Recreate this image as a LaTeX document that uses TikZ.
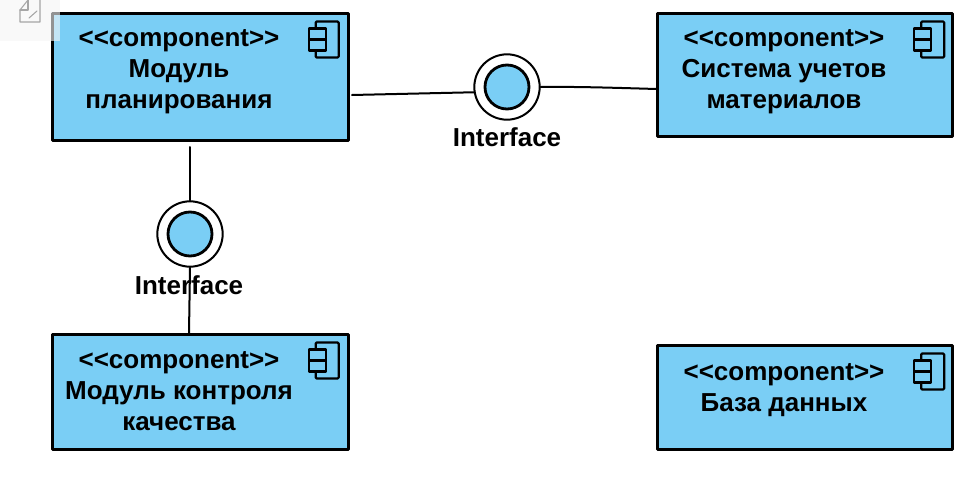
\documentclass[tikz,border=0pt]{standalone}
\usepackage{fontspec}
\setmainfont{Liberation Sans}
\definecolor{compblue}{HTML}{7ACEF5}
\tikzset{
  comp/.style={draw=black,line width=2.25pt,fill=compblue,minimum width=221.5pt,inner sep=0pt},
  comptext/.style={font=\fontsize{19.5}{23}\selectfont\bfseries,align=center,anchor=north,inner sep=0pt},
  ifaceout/.style={circle,draw=black,line width=1.5pt,fill=white,minimum size=49pt,inner sep=0pt},
  ifacein/.style={circle,draw=black,line width=2.1pt,fill=compblue,minimum size=33pt,inner sep=0pt},
  conn/.style={draw=black,line width=1.5pt},
  compicon/.pic={
    \draw[line width=1.7pt,rounded corners=0.8pt] (-23,0) rectangle (0,36);
    \draw[line width=1.7pt,fill=compblue] (-30,7) rectangle (-13,18);
    \draw[line width=1.7pt,fill=compblue] (-30,18) rectangle (-13,29);
  }
}
\begin{document}
\begin{tikzpicture}[line cap=round,line join=round,x=0.75pt,y=-0.75pt]
\useasboundingbox (0,0) rectangle (976,482);
\fill[white] (0,0) rectangle (976,482);
\node[comp,minimum height=95.25pt] (plan) at (200.5,76.5) {};
\node[comp,minimum height=92.25pt] (sys) at (805,74.5) {};
\node[comp,minimum height=86.25pt] (qual) at (200.5,391.5) {};
\node[comp,minimum height=78pt] (db) at (805,397) {};
\node[ifaceout] (ifm) at (507,87) {};
\node[ifaceout] (ifq) at (190,234) {};
\coordinate (planr) at (352,95);
\coordinate (planb) at (190,147);
\coordinate (sysl) at (657,89);
\coordinate (qualt) at (189,333);
\draw[conn] (planr) -- (ifm.189);
\draw[conn] (ifm.east) .. controls (580,86.5) and (620,88) .. (sysl);
\draw[conn] (planb) -- (ifq.north);
\draw[conn] (ifq.south) -- (qualt);
\node[ifacein] (ifmin) at (ifm.center) {};
\node[ifacein] (ifqin) at (ifq.center) {};
\pic at ([shift={(-11,10)}]plan.north east) {compicon};
\pic at ([shift={(-10,10)}]sys.north east) {compicon};
\pic at ([shift={(-11,10)}]qual.north east) {compicon};
\pic at ([shift={(-10,10)}]db.north east) {compicon};
\node[comptext] (plantext) at (179,29.5) {<{}<component>{}>\\Модуль\\планирования};
\node[comptext] (systext) at (784,29.5) {<{}<component>{}>\\Система учетов\\материалов};
\node[comptext] (qualtext) at (179,351.5) {<{}<component>{}>\\Модуль контроля\\качества};
\node[comptext] (dbtext) at (784,363.5) {<{}<component>{}>\\База данных};
\node[comptext] (ifmtext) at (507,127.5) {Interface};
\node[comptext] (ifqtext) at (189,275.5) {Interface};
\fill[fill=black!4,opacity=0.6] (0,0) rectangle (60,41);
\draw[black!35,line width=0.8pt] (28,0) -- (20,10) -- (20,22) -- (40,22) -- (40,0);
\draw[black!35,line width=0.8pt] (28,0) -- (28,10) -- (20,10);
\draw[black!35,line width=0.8pt] (29,18) -- (37,11);
\end{tikzpicture}
\end{document}
